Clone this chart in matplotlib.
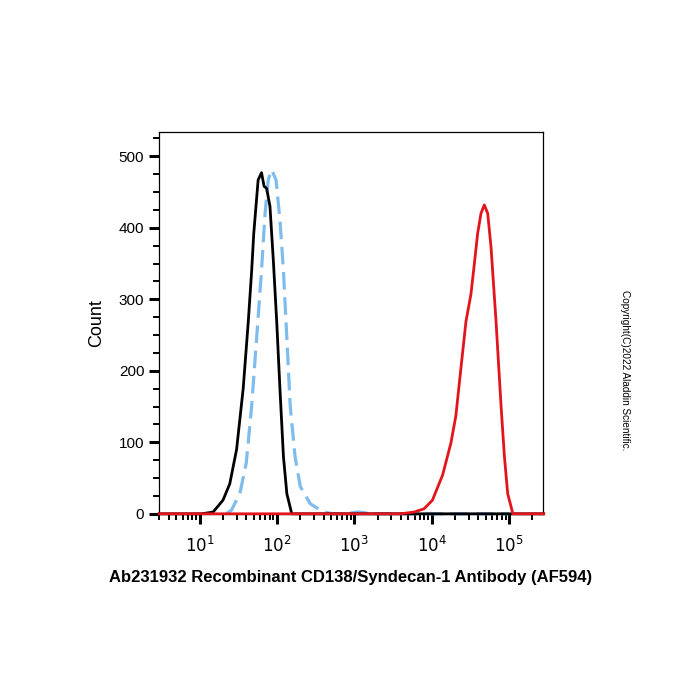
import numpy as np
import matplotlib
matplotlib.use("Agg")
import matplotlib.pyplot as plt
from matplotlib.ticker import LogLocator, FixedLocator, MultipleLocator, FuncFormatter

plt.rcParams['font.family'] = ['Liberation Sans', 'DejaVu Sans']

# black (unstained / isotype) histogram
black_x = [3, 8, 10.5, 14.9, 20, 24.5, 30, 36.5, 42.5, 47, 50, 57, 63, 68, 73.4, 81, 89.6, 99, 109, 121, 134, 155, 200, 280000]
black_y = [0, 0, 0, 2.4, 19, 42, 90, 175, 269, 340, 392, 467, 477, 458, 455, 430, 354, 269, 175, 80, 28, 0, 0, 0]

# blue dashed histogram
blue_x = [22, 25.7, 33, 40, 47, 54.4, 63, 70, 77, 85, 97, 109, 121, 134, 148, 171, 200, 269, 400, 540, 800, 1000, 1150, 1350, 1600, 3000, 100000]
blue_y = [0, 5, 28, 71, 151, 245, 340, 420, 467, 481, 467, 411, 340, 245, 151, 80, 38, 14, 2.4, 0, 0, 2, 2.5, 1.5, 0, 0, 0]

# red (stained) histogram
red_x = [3, 1000, 3950, 5900, 7950, 10200, 13800, 17700, 20500, 23800, 27700, 32100, 35500, 39200, 43300, 47800, 52900, 58400, 67800, 78700, 87000, 96000, 112000, 130000, 280000]
red_y = [0, 0, 0, 2.4, 7, 19, 54, 99, 137, 203, 269, 307, 349, 392, 420, 432, 420, 373, 269, 151, 80, 28, 0, 0, 0]

fig = plt.figure(figsize=(7, 7), dpi=100)
ax = fig.add_axes([0.227, 0.266, 0.549, 0.545])

ax.plot(blue_x, blue_y, color='#7fbcee', lw=2.3, ls=(0, (5.5, 2.4)), zorder=2, clip_on=False)
ax.plot(black_x, black_y, color='black', lw=2.0, zorder=3, clip_on=False)
ax.plot(red_x, red_y, color='#e3141b', lw=2.0, zorder=4, clip_on=False)

ax.set_xscale('log')
ax.set_xlim(2.97, 2.76e5)
ax.set_ylim(0, 533.5)

ax.xaxis.set_major_locator(FixedLocator([10, 100, 1000, 10000, 100000]))
ax.xaxis.set_minor_locator(LogLocator(base=10, subs=np.arange(2, 10), numticks=20))
ax.xaxis.set_major_formatter(FuncFormatter(lambda v, p: r'$10^{%d}$' % round(np.log10(v))))
ax.yaxis.set_major_locator(MultipleLocator(100))
ax.yaxis.set_minor_locator(MultipleLocator(25))

ax.tick_params(axis='both', which='major', direction='out', length=7, width=2.2, labelsize=11)
ax.tick_params(axis='both', which='minor', direction='out', length=4, width=1.4)
ax.tick_params(axis='x', which='major', pad=8, labelsize=12)

for s in ax.spines.values():
    s.set_linewidth(0.9)

ax.set_ylabel('Count', fontsize=13, labelpad=10)
ax.set_xlabel('Ab231932 Recombinant CD138/Syndecan-1 Antibody (AF594)', fontsize=12,
              fontweight='bold', labelpad=11)

fig.text(0.893, 0.471, 'Copyright(C)2022 Aladdin Scientific.', rotation=-90,
         fontsize=7.2, ha='center', va='center')

fig.savefig('out.png', dpi=100)
